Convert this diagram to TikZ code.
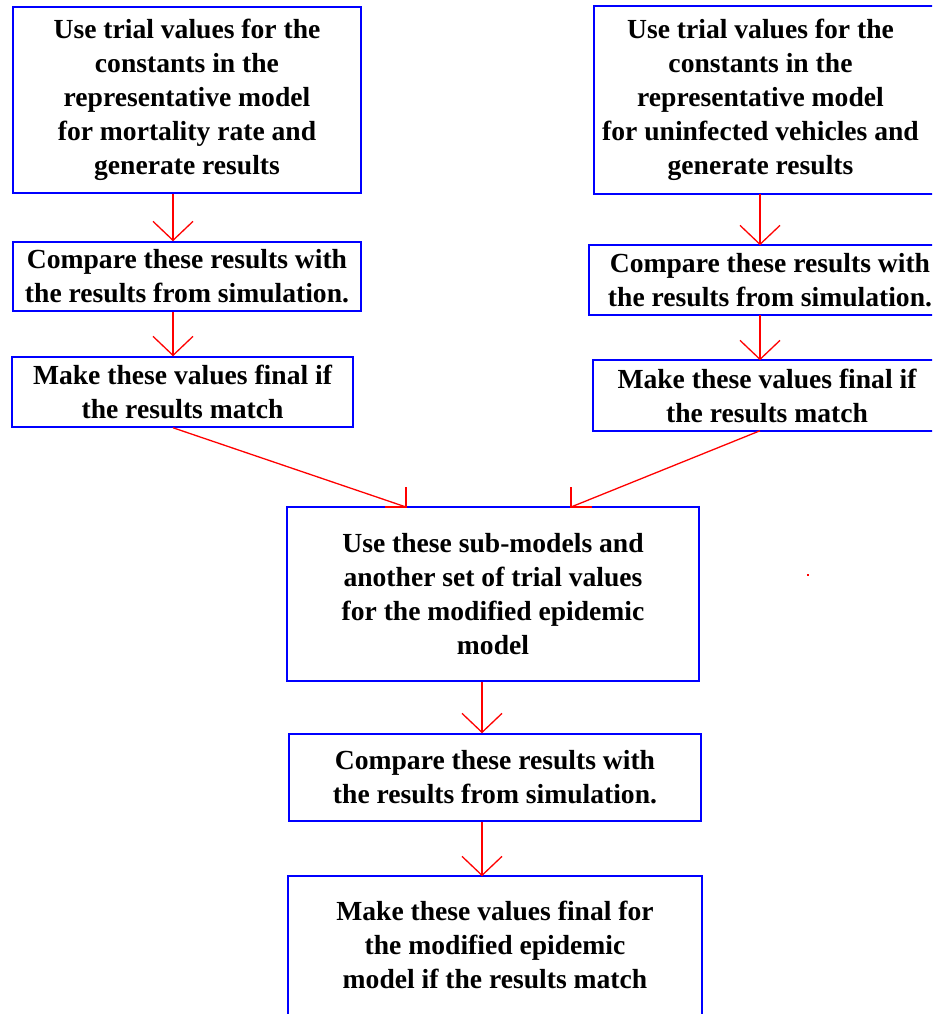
\documentclass[tikz,border=0pt]{standalone}
\usepackage{fontspec}
\setmainfont{Liberation Serif}
\usetikzlibrary{arrows.meta,calc}
\definecolor{boxblue}{RGB}{0,0,255}
\definecolor{linered}{RGB}{255,0,0}
\tikzset{
  box/.style={draw=boxblue, line width=1.5pt, rectangle, inner sep=0pt,
    align=center, text=black, font=\bfseries\fontsize{27.6}{34}\selectfont},
  openbox/.style={box, draw=none},
  rim/.style={draw=boxblue, line width=1.8pt},
  conn/.style={draw=linered, line width=1.3pt},
  arr/.style={conn, -{Straight Barb[length=19pt,width=40pt]}},
}
\begin{document}
\begin{tikzpicture}[x=1pt,y=-1pt]
\useasboundingbox (0,0) rectangle (932,1014);
\clip (0,0) rectangle (932,1014);

% left column: mortality rate sub-model
\node[box, minimum width=348pt, minimum height=186pt] (a1) at (187,100)
  {Use trial values for the\\constants in the\hspace*{20pt}\\representative model\\for mortality rate and\\generate results};
\node[box, minimum width=348pt, minimum height=69pt] (a2) at (187,276.5)
  {Compare these results with\\the results from simulation.};
\node[box, minimum width=341pt, minimum height=70pt] (a3) at (182.5,392)
  {Make these values final if\\the results match};

% right column: uninfected vehicles sub-model (open on the right)
\node[openbox, minimum width=332pt, minimum height=186pt] (b1) at (760.5,100)
  {Use trial values for the\\constants in the\hspace*{16pt}\\representative model\hspace*{24pt}\\for uninfected vehicles and\\generate results};
\node[openbox, minimum width=331pt, minimum height=68pt] (b2) at (761,280)
  {\hspace*{18pt}Compare these results with\\\hspace*{18pt}the results from simulation.};
\node[openbox, minimum width=333pt, minimum height=69pt] (b3) at (760,395.5)
  {\hspace*{14pt}Make these values final if\\\hspace*{14pt}the results match};
\foreach \n in {b1,b2,b3}
  \draw[rim] ([xshift=30pt]\n.north east) -- (\n.north west) -- (\n.south west) -- ([xshift=30pt]\n.south east);

% centre column: combined epidemic model
\node[box, minimum width=412pt, minimum height=174pt] (c1) at (493,594)
  {Use these sub-models and\\another set of trial values\\for the modified epidemic\\model};
\node[box, minimum width=412pt, minimum height=87pt] (c2) at (495,777.5)
  {Compare these results with\\the results from simulation.};
\node[openbox, minimum width=412pt, minimum height=135pt] (c3) at (495,944.5)
  {Make these values final for\\the modified epidemic\hspace*{14pt}\\model if the results match};
\draw[rim] ([yshift=-30pt]c3.south west) -- (c3.north west) -- (c3.north east) -- ([yshift=-30pt]c3.south east);

% arrow columns
\coordinate (colL) at (173,0);
\coordinate (colR) at (760,0);
\coordinate (colC) at (482,0);

\draw[arr] (a1.south -| colL) -- (a2.north -| colL);
\draw[arr] (a2.south -| colL) -- (a3.north -| colL);
\draw[arr] (b1.south -| colR) -- (b2.north -| colR);
\draw[arr] (b2.south -| colR) -- (b3.north -| colR);
\draw[arr] (c1.south -| colC) -- (c2.north -| colC);
\draw[arr] (c2.south -| colC) -- (c3.north -| colC);

% merging connectors into the centre box
\coordinate (inL) at (406,507);
\coordinate (inR) at (571,507);
\draw[conn] (a3.south -| colL) -- (inL);
\draw[conn] ($(inL)+(0,-20)$) -- (inL) -- ($(inL)+(-21,0)$);
\draw[conn] (b3.south -| colR) -- (inR);
\draw[conn] ($(inR)+(0,-20)$) -- (inR) -- ($(inR)+(21,0)$);

% stray mark
\fill[linered] (807,574) rectangle (809,576);
\end{tikzpicture}
\end{document}
